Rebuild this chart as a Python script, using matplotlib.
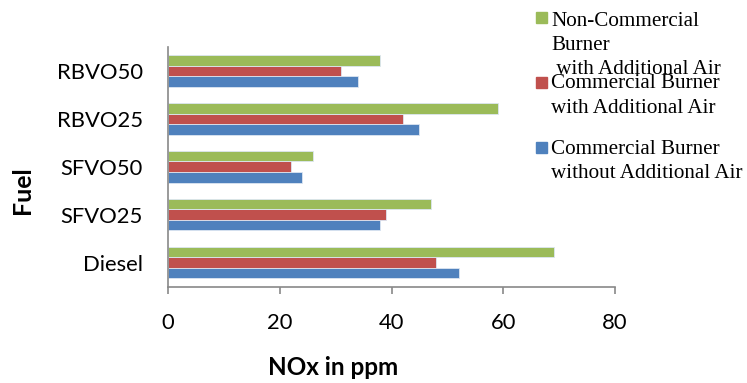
import matplotlib
matplotlib.use("Agg")
import matplotlib.pyplot as plt
from matplotlib.patches import Rectangle
import numpy as np

fuels = ["Diesel", "SFVO25", "SFVO50", "RBVO25", "RBVO50"]
comm_no_air = [52, 38, 24, 45, 34]
comm_air = [48, 39, 22, 42, 31]
noncomm_air = [69, 47, 26, 59, 38]

series = [
    (comm_no_air, "#4F81BD", ["Commercial Burner", "without Additional Air"]),
    (comm_air, "#C0504D", ["Commercial Burner", "with Additional Air"]),
    (noncomm_air, "#9BBB59", ["Non-Commercial", "Burner", " with Additional Air"]),
]

W, H = 747, 383
fig = plt.figure(figsize=(W / 100, H / 100), dpi=100)
ax = fig.add_axes([168 / W, 1 - 286.5 / H, (615 - 168) / W, (286.5 - 47) / H])

y = np.arange(len(fuels))
bh = 0.22
for i, (vals, color, _) in enumerate(series):
    ax.barh(y + (i - 1) * bh, vals, height=bh, color=color,
            edgecolor="#dce6f2", linewidth=0.6)

ax.set_xlim(0, 80)
ax.set_ylim(-0.5, len(fuels) - 0.5)
ax.set_xticks([0, 20, 40, 60, 80])
ax.set_yticks(y)
ax.set_yticklabels(fuels)

for s in ["top", "right"]:
    ax.spines[s].set_visible(False)
for s in ["left", "bottom"]:
    ax.spines[s].set_color("#898989")
    ax.spines[s].set_linewidth(1.2)

ax.tick_params(axis="x", length=5, width=1.2, color="#898989", pad=14)
ax.tick_params(axis="y", length=0, pad=18)
for lbl in ax.get_xticklabels() + ax.get_yticklabels():
    lbl.set_fontfamily("Lato")
    lbl.set_fontsize(15.8)
    lbl.set_color("black")

fig.text(333 / W, 1 - 367.5 / H, "NOx in ppm", ha="center", va="center",
         fontfamily="Lato", fontweight="bold", fontsize=17.5)
fig.text(23 / W, 1 - 190 / H, "Fuel", ha="center", va="center", rotation=90,
         fontfamily="Lato", fontweight="bold", fontsize=18)

# legend drawn by hand to keep the original's stacked layout
marker_tops = [142, 77, 11.7]
baselines = [[154, 178], [88, 113], [26, 49.5, 74]]
for (vals, color, lines), mt, bls in zip(series, marker_tops, baselines):
    fig.patches.append(Rectangle((536 / W, 1 - (mt + 11) / H), 11 / W, 11 / H,
                                 transform=fig.transFigure, color=color))
    for line, bl in zip(lines, bls):
        fig.text(551 / W, 1 - bl / H, line, ha="left", va="baseline",
                 fontfamily="Liberation Serif", fontsize=15.2)

fig.savefig("out.png", dpi=100)
